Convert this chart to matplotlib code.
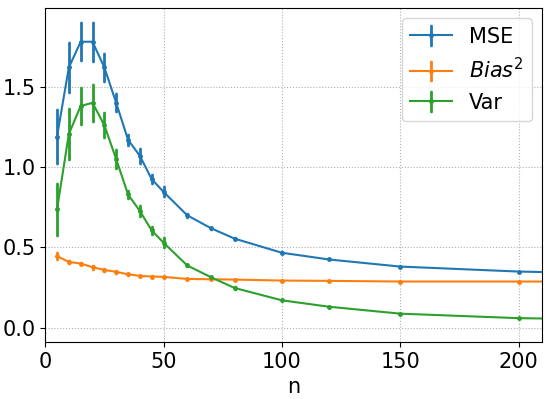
import matplotlib
matplotlib.use("Agg")
import matplotlib.pyplot as plt

n = [5, 10, 15, 20, 25, 30, 35, 40, 45, 50, 60, 70, 80, 100, 120, 150, 200, 250]

mse = [1.19, 1.62, 1.78, 1.78, 1.62, 1.40, 1.17, 1.07, 0.925, 0.846, 0.70, 0.62, 0.555,
       0.467, 0.425, 0.381, 0.35, 0.335]
mse_err = [0.17, 0.16, 0.12, 0.125, 0.09, 0.06, 0.036, 0.05, 0.03, 0.035, 0.015, 0.01, 0.01,
           0.008, 0.006, 0.005, 0.005, 0.004]

bias2 = [0.446, 0.41, 0.40, 0.377, 0.36, 0.348, 0.333, 0.323, 0.319, 0.317, 0.304, 0.302, 0.30,
         0.294, 0.292, 0.288, 0.288, 0.287]
bias2_err = [0.025, 0.012, 0.012, 0.015, 0.012, 0.012, 0.01, 0.008, 0.008, 0.006, 0.006, 0.005, 0.005,
             0.004, 0.004, 0.004, 0.004, 0.004]

var = [0.737, 1.206, 1.38, 1.40, 1.26, 1.05, 0.83, 0.727, 0.606, 0.53, 0.388, 0.315, 0.248,
       0.171, 0.131, 0.088, 0.06, 0.05]
var_err = [0.165, 0.16, 0.118, 0.117, 0.08, 0.06, 0.03, 0.04, 0.03, 0.035, 0.012, 0.01, 0.01,
           0.006, 0.005, 0.004, 0.004, 0.004]

fig = plt.figure(figsize=(5.51, 3.99), dpi=100)
ax = fig.add_axes([0.082, 0.143, 0.902, 0.837])

kw = dict(marker='.', markersize=5, capsize=1, elinewidth=2, linewidth=1.5)
ax.errorbar(n, mse, yerr=mse_err, label='MSE', color='#1f77b4', **kw)
ax.errorbar(n, bias2, yerr=bias2_err, label='$Bias^2$', color='#ff7f0e', **kw)
ax.errorbar(n, var, yerr=var_err, label='Var', color='#2ca02c', **kw)

ax.set_xlim(0, 210)
ax.set_ylim(-0.088, 1.99)
ax.set_xticks([0, 50, 100, 150, 200])
ax.set_yticks([0.0, 0.5, 1.0, 1.5])
ax.grid(True, linestyle=':', color='#b0b0b0')
ax.tick_params(labelsize=15)
ax.set_xlabel('n', fontsize=15)
ax.legend(fontsize=15, loc='upper right')

fig.savefig('out.png', dpi=100)
